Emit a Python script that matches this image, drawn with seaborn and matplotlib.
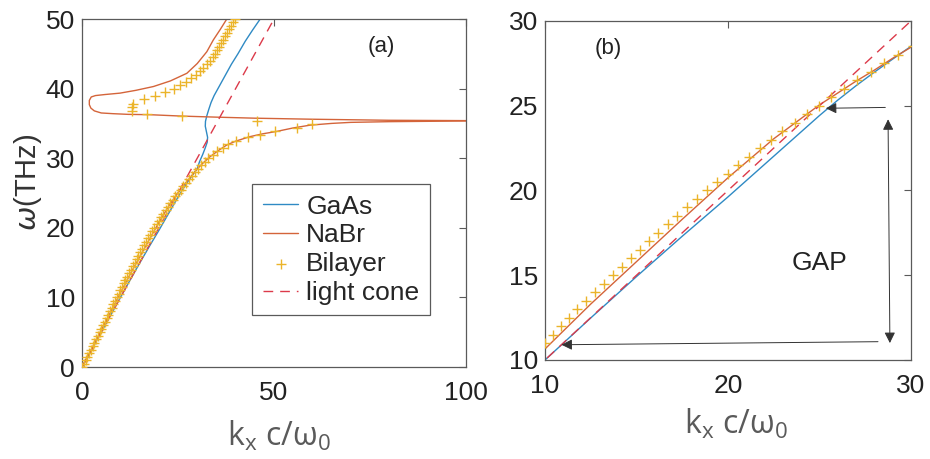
import matplotlib
matplotlib.use("Agg")
import matplotlib.pyplot as plt
import seaborn as sns

# ---------------- data ----------------
# GaAs branch (k_x c/w0, omega THz)
gaas_k = [0, 5, 10, 12.5, 15, 17.5, 20, 22.5, 25, 26, 27, 28, 29, 30,
          30.6, 31.4, 32.1, 32.6, 32.7, 32.4, 32.1, 32.15, 32.5, 33.0, 33.6,
          34.4, 35.9, 37.4, 38.9, 40.6, 42.5, 44.4, 46.4]
gaas_w = [0, 5, 10, 12.48, 14.92, 17.3, 19.62, 22.02, 24.42, 25.33, 26.18, 26.98, 27.75, 28.5,
          29.5, 30.5, 31.5, 32.3, 33.0, 33.8, 34.6, 35.3, 36.1, 37.0, 38.0,
          39.0, 40.5, 42.0, 43.5, 45.0, 46.8, 48.4, 50.0]

# NaBr lower branch
nabr_lo_k = [0, 2.5, 5, 7.5, 10, 12.5, 15, 17.5, 20, 22.5, 25, 26, 27, 28, 29, 30,
             31.5, 33.3, 35.5, 37.7, 40, 43.75, 47, 50.7, 55, 59.4, 65, 70, 80, 90, 100]
nabr_lo_w = [0, 2.6, 5.3, 7.95, 10.65, 13.3, 15.8, 18.3, 20.75, 23.05, 25.05, 25.75, 26.45,
             27.1, 27.8, 28.45, 29.3, 30.2, 31.1, 31.9, 32.45, 33.1, 33.5, 33.85, 34.35,
             34.75, 35.0, 35.15, 35.25, 35.3, 35.35]

# NaBr upper branch (with the fold near k ~ 2)
nabr_up_k = [37.7, 36.0, 34.2, 32.5, 30.0, 27.3, 23.0, 18.6, 14.0, 9.9, 6.0, 3.5, 2.4,
             1.9, 1.9, 2.3, 3.2, 5.0, 8.0, 12.0, 17.7, 26.0, 35.0, 45.0, 60.0, 80.0, 100.0]
nabr_up_w = [50.0, 48.5, 47.0, 45.3, 43.6, 42.2, 41.1, 40.3, 39.75, 39.35, 39.15, 39.0, 38.8,
             38.3, 37.7, 37.2, 36.8, 36.5, 36.4, 36.3, 36.25, 36.05, 35.9, 35.75, 35.6,
             35.45, 35.4]

# Bilayer (markers)
bil_w = [0.0, 0.5, 1.0, 1.5, 2.0, 2.5, 3.0, 3.5, 4.0, 4.5, 5.0, 5.5, 6.0, 6.5, 7.0, 7.5,
         8.0, 8.5, 9.0, 9.5, 10.0, 10.5, 11.0, 11.5, 12.0, 12.5, 13.0, 13.5, 14.0, 14.5,
         15.0, 15.5, 16.0, 16.5, 17.0, 17.5, 18.0, 18.5, 19.0, 19.5, 20.0, 20.5, 21.0,
         21.5, 22.0, 22.5, 23.0, 23.5, 24.0, 24.5, 25.0, 25.5, 26.0, 26.5, 27.0, 27.5,
         28.0, 28.5, 29.0, 29.5, 30.0, 30.5, 31.0, 31.5, 32.0, 32.5, 33.0,
         33.4, 33.85, 34.4, 34.85, 35.4, 36.0, 36.4, 36.85, 37.35, 37.85,
         38.45, 39.0, 39.5, 40.0, 40.5, 41.0, 41.5, 42.0, 42.5, 43.0, 43.5, 44.0, 44.5,
         45.0, 45.5, 46.0, 46.5, 47.0, 47.5, 48.0, 48.5, 49.0, 49.5, 50.0]
bil_k = [0.0, 0.46, 0.92, 1.38, 1.84, 2.3, 2.76, 3.21, 3.67, 4.12, 4.57, 5.03, 5.48, 5.93,
         6.38, 6.83, 7.28, 7.73, 8.18, 8.63, 9.08, 9.53, 9.98, 10.42, 10.87, 11.32, 11.77,
         12.23, 12.72, 13.2, 13.7, 14.2, 14.7, 15.2, 15.7, 16.2, 16.7, 17.22, 17.76, 18.3,
         18.85, 19.4, 19.98, 20.56, 21.15, 21.75, 22.35, 22.98, 23.65, 24.3, 24.95, 25.65,
         26.35, 27.05, 27.8, 28.55, 29.3, 30.1, 30.95, 31.9, 32.9, 34.0, 35.2, 36.6, 38.0,
         40.2, 43.1,
         46.4, 50.3, 55.9, 59.8, 45.5, 26.0, 16.8, 12.9, 13.1, 13.4,
         16.1, 19.0, 21.6, 23.9, 25.6, 27.2, 28.4, 29.6, 30.7, 31.6, 32.5, 33.3, 34.0,
         34.6, 35.2, 35.8, 36.3, 36.8, 37.3, 37.8, 38.3, 38.8, 39.3, 39.8]

# light cone omega = k
cone_k = [0, 100]
cone_w = [0, 100]

xticks_a = [0, 50, 100]
yticks_a = [0, 10, 20, 30, 40, 50]
xticks_b = [10, 20, 30]
yticks_b = [10, 15, 20, 25, 30]

# ---------------- style ----------------
sns.set_style("white")
plt.rcParams['font.family'] = ['Liberation Sans', 'DejaVu Sans']
plt.rcParams['mathtext.fontset'] = 'dejavusans'

C_BLUE = '#2f8ac4'
C_ORANGE = '#d4643a'
C_YEL = '#ebb42a'
C_RED = '#dc3a4a'
SPINE = '#5a5a5a'

fig = plt.figure(figsize=(9.3, 4.59), dpi=100)
axA = fig.add_axes([0.0882, 0.2004, 0.4129, 0.7582])
axB = fig.add_axes([0.586, 0.2157, 0.3935, 0.7386])


def draw(ax, with_labels):
    sns.lineplot(x=gaas_k, y=gaas_w, sort=False, estimator=None, color=C_BLUE, lw=1.0,
                 ax=ax, label='GaAs' if with_labels else None, zorder=2)
    sns.lineplot(x=nabr_lo_k, y=nabr_lo_w, sort=False, estimator=None, color=C_ORANGE, lw=1.0,
                 ax=ax, label='NaBr' if with_labels else None, zorder=2)
    sns.lineplot(x=nabr_up_k, y=nabr_up_w, sort=False, estimator=None, color=C_ORANGE, lw=1.0,
                 ax=ax, zorder=2)
    sns.scatterplot(x=bil_k, y=bil_w, marker='+', s=50, color=C_YEL, linewidth=1.0,
                    ax=ax, label='Bilayer' if with_labels else None, zorder=3)
    sns.lineplot(x=cone_k, y=cone_w, sort=False, estimator=None, color=C_RED, lw=1.0,
                 linestyle=(0, (7, 5)), ax=ax, label='light cone' if with_labels else None,
                 zorder=2)


draw(axA, True)
draw(axB, False)

for ax in (axA, axB):
    for s in ax.spines.values():
        s.set_color(SPINE)
        s.set_linewidth(0.9)
    ax.tick_params(direction='in', top=True, right=True, length=5, width=0.8,
                   color=SPINE, labelsize=19, labelcolor='#222222')
    ax.tick_params(axis='x', pad=10)
    ax.tick_params(axis='y', pad=5)
    ax.set_xlabel('')
    ax.set_ylabel('')

axA.set_xlim(0, 100)
axA.set_ylim(0, 50)
axA.set_xticks(xticks_a)
axA.set_yticks(yticks_a)
axB.set_xlim(10, 30)
axB.set_ylim(10, 30)
axB.set_xticks(xticks_b)
axB.set_yticks(yticks_b)

xl = r'k$_\mathregular{x}$ c/ω$_\mathregular{0}$'
axA.set_xlabel(xl, fontsize=23, color='#5a5a5a', family=['Open Sans', 'DejaVu Sans'])
axB.set_xlabel(xl, fontsize=23, color='#5a5a5a', family=['Open Sans', 'DejaVu Sans'])
axA.xaxis.set_label_coords(0.513, -0.15)
axB.xaxis.set_label_coords(0.522, -0.14)
axA.set_ylabel(r'$\omega$(THz)', fontsize=21, color='#333333')
axA.yaxis.set_label_coords(-0.1, 0.532)

axA.text(0.779, 0.92, '(a)', transform=axA.transAxes, fontsize=16, ha='center', va='center',
         color='#222222')
axB.text(0.172, 0.92, '(b)', transform=axB.transAxes, fontsize=16, ha='center', va='center',
         color='#222222')
axB.text(0.751, 0.286, 'GAP', transform=axB.transAxes, fontsize=19, ha='center', va='center',
         color='#222222')

arrow_kw = dict(arrowstyle='-|>', color='#333333', lw=0.7, mutation_scale=16,
                shrinkA=0, shrinkB=0)
axB.annotate('', xy=(25.35, 24.85), xytext=(28.6, 24.9), arrowprops=arrow_kw)
axB.annotate('', xy=(10.9, 10.9), xytext=(28.2, 11.08), arrowprops=arrow_kw)
axB.annotate('', xy=(28.75, 24.2), xytext=(28.85, 11.0),
             arrowprops=dict(arrowstyle='<|-|>', color='#333333', lw=0.7, mutation_scale=16,
                             shrinkA=0, shrinkB=0))

if axB.get_legend() is not None:
    axB.get_legend().remove()
h, l = axA.get_legend_handles_labels()
order = ['GaAs', 'NaBr', 'Bilayer', 'light cone']
hh = [h[l.index(o)] for o in order]
leg = axA.legend(hh, order, loc='upper left', bbox_to_anchor=(0.443, 0.526), fontsize=19,
                 frameon=True, fancybox=False, edgecolor=SPINE, framealpha=1,
                 handlelength=1.35, handletextpad=0.3, labelspacing=0.18, borderpad=0.4,
                 borderaxespad=0)
leg.get_frame().set_linewidth(0.9)

fig.savefig('out.png', dpi=100)
